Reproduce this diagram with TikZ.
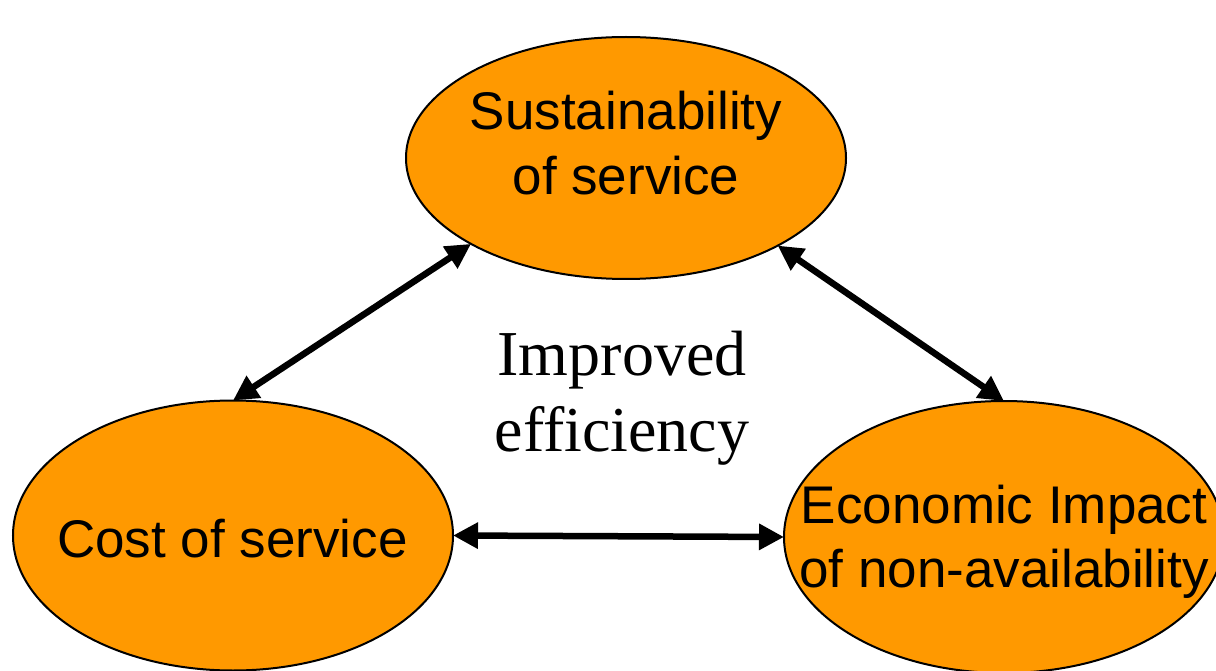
\documentclass[tikz,border=0pt]{standalone}
\usepackage{fontspec}
\usetikzlibrary{shapes.geometric,arrows.meta}
\newfontfamily\arialf{Liberation Sans}
\newfontfamily\tnrf{Liberation Serif}
\definecolor{orangefill}{RGB}{255,153,0}
\tikzset{
  oval/.style={ellipse, draw=black, line width=2pt, fill=orangefill, inner sep=0pt, outer sep=0pt, minimum width=440pt},
  ovaltext/.style={anchor=base, inner sep=0pt, font=\arialf\fontsize{53}{63}\selectfont},
  midtext/.style={anchor=base, inner sep=0pt, font=\tnrf\fontsize{64}{76}\selectfont},
  link/.style={line width=6.5pt, {Triangle[length=25pt,width=25pt]}-{Triangle[length=25pt,width=25pt]}}
}
\begin{document}
\begin{tikzpicture}[x=1pt,y=-1pt]
\useasboundingbox (0,0) rectangle (1216,671);
\fill[white] (0,0) rectangle (1216,671);
\node[oval, minimum height=242pt] (s) at (626,158) {};
\node[oval, minimum height=270pt] (c) at (233,535.5) {};
\node[oval, minimum height=272pt] (e) at (1004,537) {};
\node[ovaltext] (s1) at (626,130) {Sustainability};
\node[ovaltext] (s2) at (626,195) {of service};
\node[ovaltext] (c1) at (232.5,557) {Cost of service};
\node[ovaltext] (e1) at (1004,523) {Economic Impact};
\node[ovaltext] (e2) at (1004,587) {of non-availability};
\node[midtext] (m1) at (622,375) {Improved};
\node[midtext] (m2) at (622,451) {efficiency};
\draw[link] (s.209.5) -- (c.north);
\draw[link] (s.330.5) -- (e.north);
\draw[link] (c.east) -- (e.west);
\end{tikzpicture}
\end{document}
